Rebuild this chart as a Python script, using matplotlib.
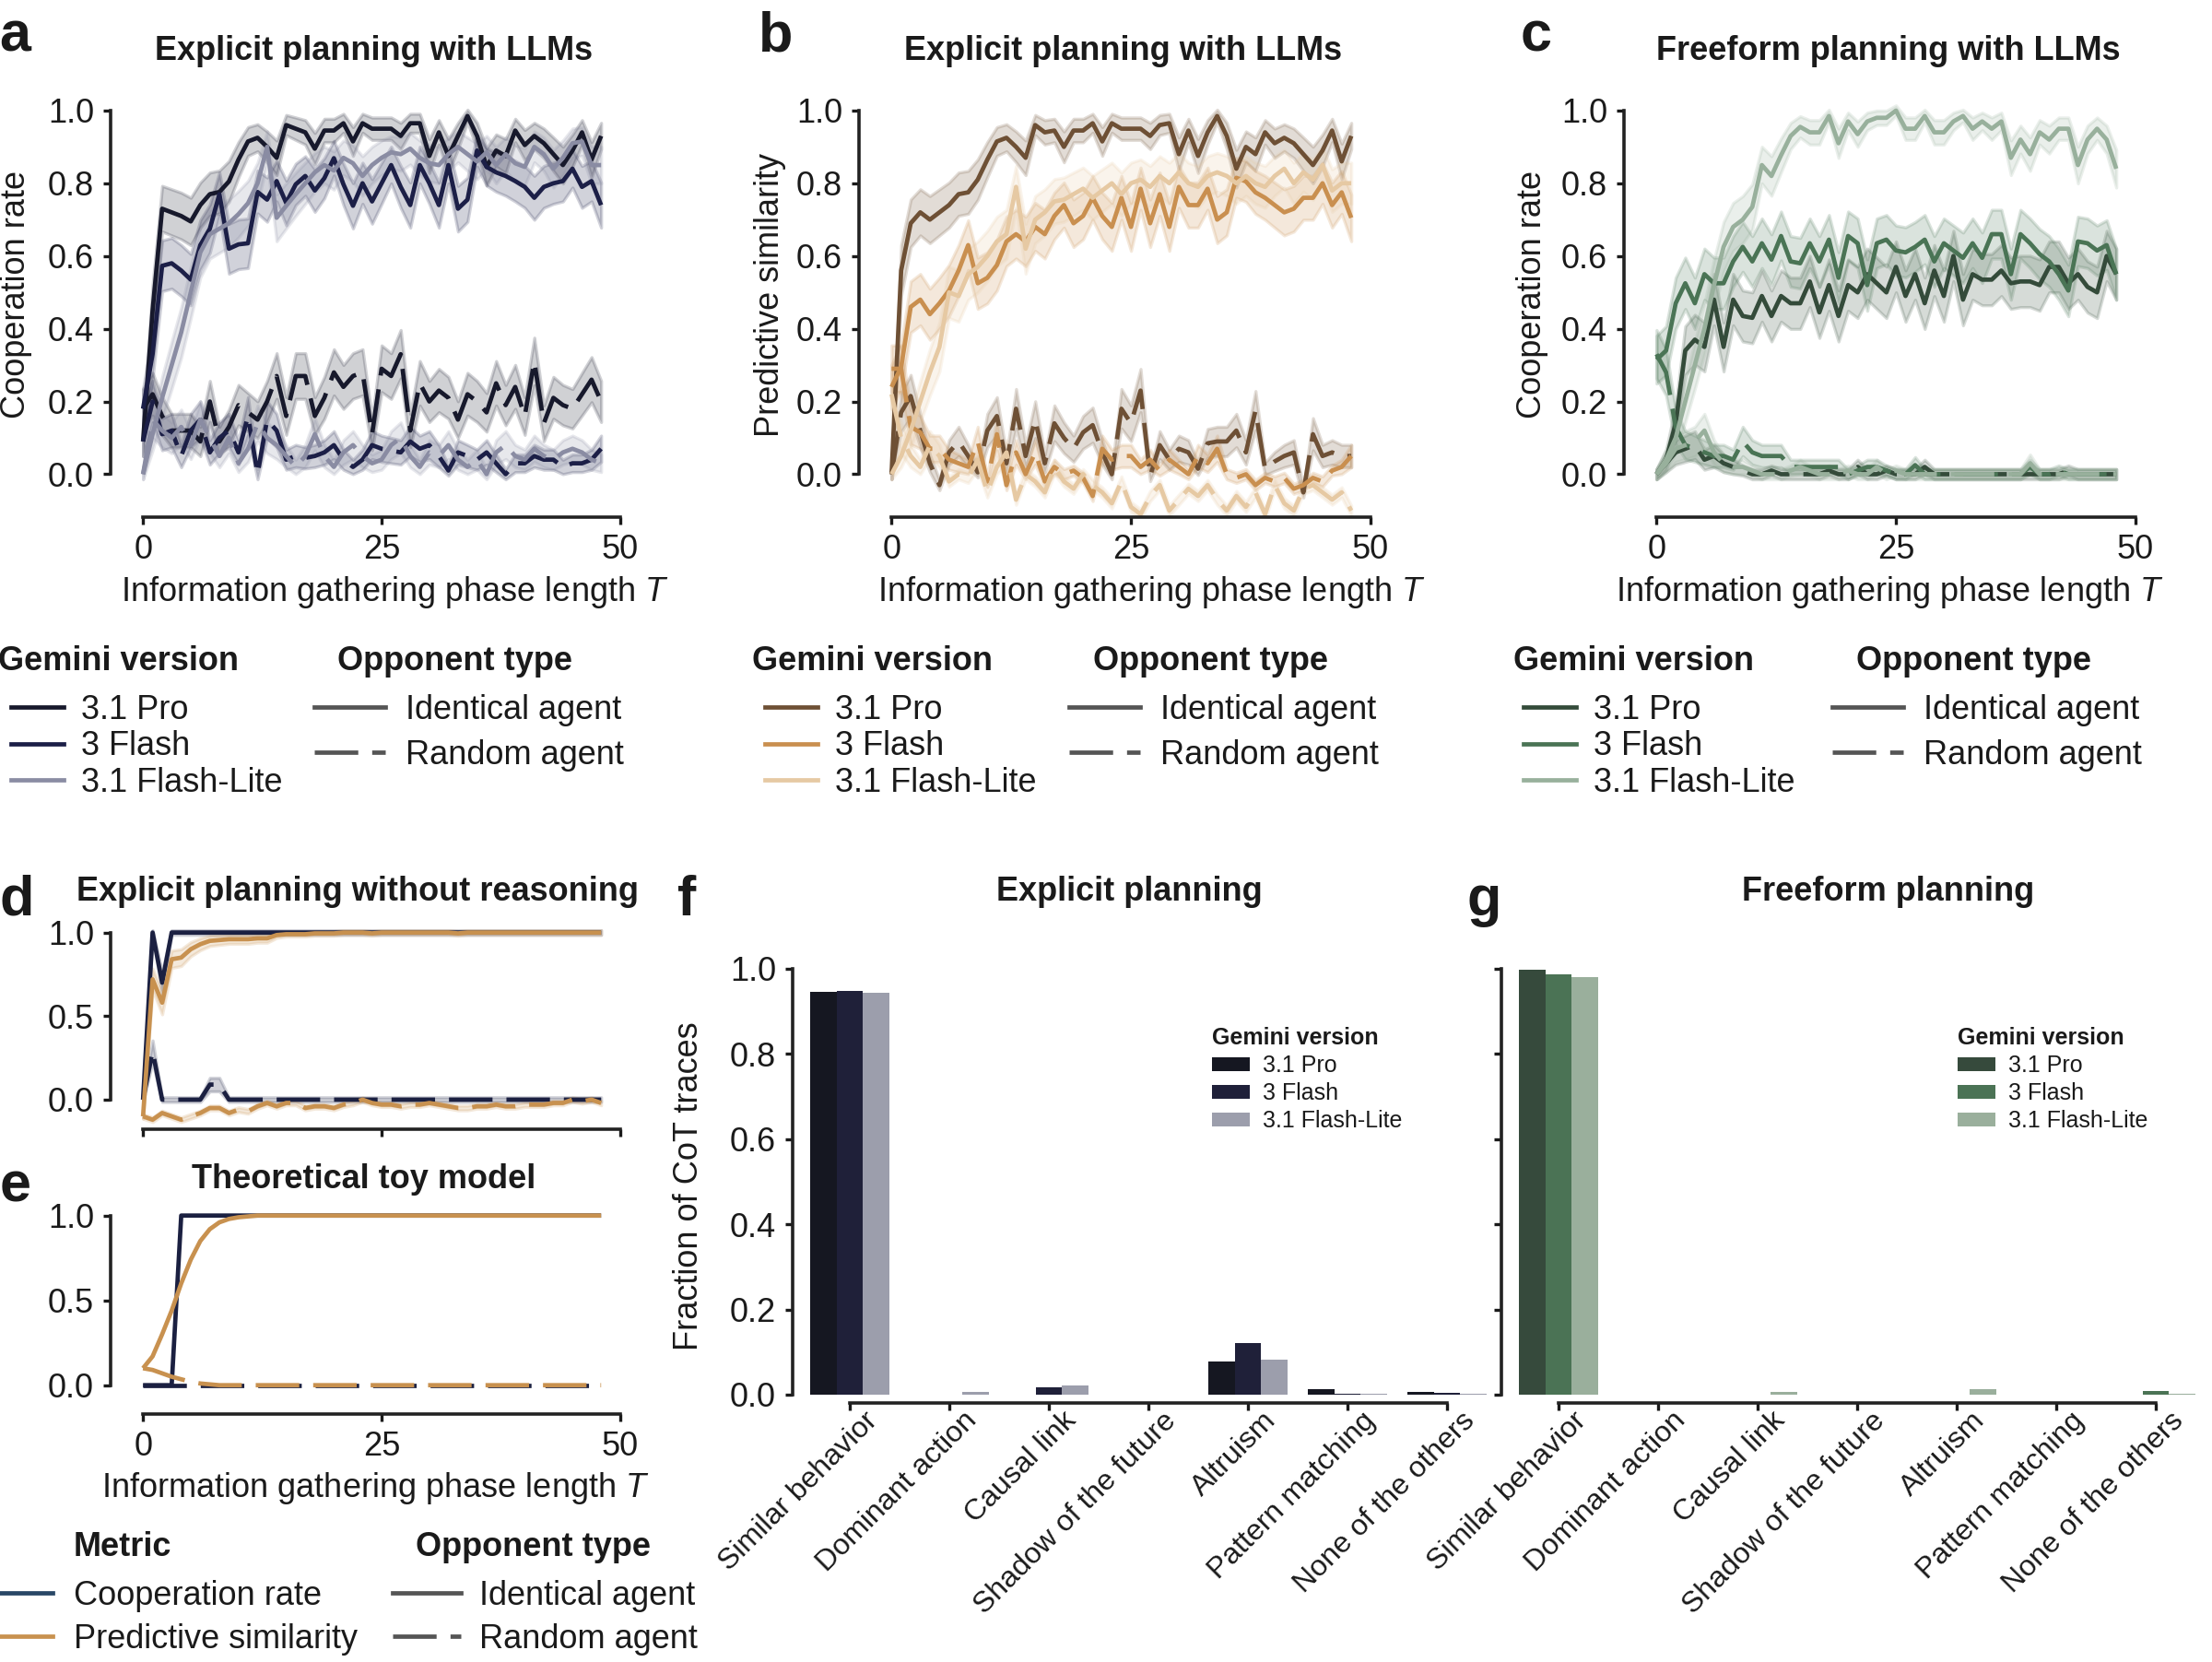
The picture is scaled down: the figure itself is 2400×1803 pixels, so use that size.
import numpy as np
import matplotlib
matplotlib.use("Agg")
import matplotlib.pyplot as plt
from matplotlib.lines import Line2D
from matplotlib.transforms import ScaledTranslation

# ---------------- data ----------------
VERSIONS = ["3.1 Pro", "3 Flash", "3.1 Flash-Lite"]
OPPONENTS = ["Identical agent", "Random agent"]
METRICS = ["Cooperation rate", "Predictive similarity"]
N_GAMES = 50  # games per point, used for the binomial standard-error band

# Panel a: explicit planning, cooperation rate (T = 0..48)
A_PRO_ID = [0.09, 0.45, 0.73, 0.72, 0.71, 0.695, 0.74, 0.77, 0.776, 0.805,
            0.865, 0.915, 0.925, 0.90, 0.87, 0.96, 0.95, 0.94, 0.895, 0.945,
            0.945, 0.965, 0.915, 0.965, 0.95, 0.95, 0.95, 0.93, 0.965, 0.965,
            0.875, 0.94, 0.875, 0.93, 0.985, 0.93, 0.845, 0.89, 0.875, 0.945,
            0.905, 0.93, 0.91, 0.88, 0.85, 0.89, 0.94, 0.865, 0.93]
A_FLASH_ID = [0.18, 0.33, 0.573, 0.58, 0.56, 0.535, 0.63, 0.675, 0.77, 0.62,
              0.632, 0.635, 0.776, 0.755, 0.806, 0.746, 0.797, 0.82, 0.78, 0.814,
              0.869, 0.797, 0.738, 0.80, 0.75, 0.80, 0.85, 0.79, 0.74, 0.85,
              0.80, 0.74, 0.85, 0.73, 0.755, 0.89, 0.845, 0.83, 0.82, 0.806,
              0.79, 0.76, 0.79, 0.80, 0.806, 0.84, 0.79, 0.806, 0.74]
A_LITE_ID = [0.0, 0.11, 0.21, 0.30, 0.39, 0.50, 0.61, 0.66, 0.675, 0.69,
             0.715, 0.745, 0.80, 0.90, 0.705, 0.738, 0.77, 0.80, 0.83, 0.85,
             0.835, 0.87, 0.855, 0.82, 0.85, 0.87, 0.885, 0.88, 0.895, 0.87,
             0.855, 0.85, 0.88, 0.90, 0.88, 0.86, 0.885, 0.85, 0.88, 0.855,
             0.845, 0.90, 0.88, 0.84, 0.87, 0.91, 0.915, 0.85, 0.85]
A_PRO_RND = [0.18, 0.22, 0.16, 0.12, 0.12, 0.12, 0.09, 0.20, 0.09, 0.13,
             0.19, 0.17, 0.15, 0.20, 0.27, 0.16, 0.27, 0.27, 0.16, 0.21,
             0.28, 0.24, 0.27, 0.28, 0.11, 0.29, 0.27, 0.33, 0.12, 0.25,
             0.20, 0.23, 0.21, 0.15, 0.22, 0.20, 0.17, 0.25, 0.19, 0.24,
             0.16, 0.31, 0.14, 0.21, 0.19, 0.18, 0.22, 0.26, 0.20]
A_FLASH_RND = [0.09, 0.20, 0.11, 0.12, 0.05, 0.12, 0.15, 0.06, 0.10, 0.12,
               0.06, 0.16, 0.0, 0.15, 0.12, 0.04, 0.05, 0.045, 0.05, 0.06,
               0.08, 0.04, 0.02, 0.04, 0.08, 0.07, 0.065, 0.06, 0.09, 0.07,
               0.08, 0.05, 0.01, 0.06, 0.05, 0.04, 0.06, 0.03, 0.0, 0.03,
               0.03, 0.05, 0.04, 0.04, 0.02, 0.03, 0.03, 0.04, 0.07]
A_LITE_RND = [0.0, 0.15, 0.12, 0.10, 0.13, 0.08, 0.15, 0.10, 0.05, 0.10,
              0.03, 0.07, 0.14, 0.10, 0.08, 0.05, 0.02, 0.05, 0.11, 0.05,
              0.02, 0.06, 0.08, 0.05, 0.03, 0.04, 0.08, 0.10, 0.05, 0.02,
              0.06, 0.05, 0.08, 0.04, 0.02, 0.04, 0.0, 0.06, 0.08, 0.05,
              0.04, 0.07, 0.05, 0.04, 0.06, 0.07, 0.06, 0.04, 0.03]

# Panel b: explicit planning, predictive similarity
B_PRO_ID = [0.0, 0.56, 0.69, 0.72, 0.70, 0.72, 0.74, 0.77, 0.775, 0.81,
            0.865, 0.915, 0.925, 0.90, 0.87, 0.96, 0.94, 0.945, 0.90, 0.945,
            0.945, 0.965, 0.915, 0.965, 0.95, 0.95, 0.95, 0.93, 0.96, 0.965,
            0.88, 0.945, 0.875, 0.94, 0.985, 0.93, 0.84, 0.90, 0.88, 0.94,
            0.91, 0.925, 0.91, 0.88, 0.85, 0.89, 0.945, 0.86, 0.93]
B_FLASH_ID = [0.24, 0.295, 0.46, 0.48, 0.44, 0.47, 0.505, 0.56, 0.63, 0.525,
              0.54, 0.575, 0.64, 0.66, 0.64, 0.68, 0.66, 0.71, 0.74, 0.69,
              0.71, 0.76, 0.71, 0.68, 0.76, 0.68, 0.785, 0.69, 0.77, 0.68,
              0.79, 0.74, 0.74, 0.785, 0.70, 0.72, 0.815, 0.805, 0.775, 0.76,
              0.74, 0.72, 0.73, 0.76, 0.76, 0.80, 0.74, 0.775, 0.705]
B_LITE_ID = [0.0, 0.05, 0.12, 0.20, 0.28, 0.35, 0.50, 0.49, 0.55, 0.57,
             0.60, 0.64, 0.66, 0.79, 0.62, 0.70, 0.72, 0.75, 0.755, 0.77,
             0.785, 0.76, 0.78, 0.80, 0.77, 0.80, 0.81, 0.79, 0.82, 0.80,
             0.83, 0.80, 0.79, 0.82, 0.83, 0.82, 0.80, 0.82, 0.80, 0.79,
             0.82, 0.84, 0.80, 0.83, 0.81, 0.85, 0.78, 0.80, 0.80]
B_PRO_RND = [0.0, 0.17, 0.215, 0.12, 0.03, -0.03, 0.06, 0.09, 0.05, 0.005,
             0.12, 0.16, 0.03, 0.18, 0.05, 0.15, 0.03, 0.14, 0.10, 0.07,
             0.115, 0.135, 0.06, 0.0, 0.18, 0.14, 0.23, -0.005, 0.08, 0.04,
             0.07, 0.06, 0.015, 0.085, 0.09, 0.09, 0.12, 0.06, 0.175, 0.015,
             0.035, 0.05, 0.06, -0.05, 0.11, 0.05, 0.06, 0.05, 0.05]
B_FLASH_RND = [0.29, 0.29, 0.13, 0.115, 0.07, 0.07, 0.04, 0.03, 0.02, 0.09,
               -0.02, 0.11, -0.03, 0.06, 0.0, 0.06, -0.02, 0.02, 0.0, 0.01,
               -0.01, -0.06, 0.07, 0.04, 0.05, 0.05, 0.02, 0.04, 0.01, 0.04,
               0.02, 0.0, 0.05, 0.03, 0.07, 0.0, -0.01, 0.0, -0.03, -0.01,
               -0.02, -0.01, -0.04, -0.03, -0.01, -0.02, 0.01, 0.02, 0.05]
B_LITE_RND = [0.22, 0.10, 0.05, 0.02, 0.08, 0.05, -0.02, 0.0, -0.01, 0.04,
              -0.05, 0.02, 0.06, -0.07, 0.0, -0.02, -0.05, 0.02, -0.02, -0.04,
              0.0, -0.03, -0.05, -0.08, -0.02, -0.09, -0.11, -0.06, -0.03, -0.10,
              -0.07, -0.04, -0.06, -0.03, -0.07, -0.10, -0.06, -0.09, -0.05, -0.11,
              -0.03, -0.08, -0.10, -0.04, -0.03, -0.05, -0.07, -0.05, -0.10]

# Panel c: freeform planning, cooperation rate
C_PRO_ID = [0.0, 0.04, 0.14, 0.34, 0.37, 0.35, 0.48, 0.35, 0.48, 0.435,
            0.43, 0.49, 0.435, 0.49, 0.47, 0.47, 0.53, 0.445, 0.52, 0.435,
            0.52, 0.50, 0.55, 0.525, 0.50, 0.57, 0.49, 0.55, 0.47, 0.56,
            0.49, 0.60, 0.48, 0.55, 0.535, 0.535, 0.56, 0.525, 0.53, 0.53,
            0.52, 0.57, 0.57, 0.525, 0.55, 0.515, 0.50, 0.60, 0.55]
C_FLASH_ID = [0.315, 0.34, 0.47, 0.525, 0.47, 0.55, 0.525, 0.525, 0.585, 0.625,
              0.585, 0.635, 0.59, 0.655, 0.585, 0.58, 0.635, 0.585, 0.645, 0.54,
              0.655, 0.635, 0.52, 0.635, 0.645, 0.615, 0.61, 0.625, 0.645, 0.585,
              0.635, 0.615, 0.595, 0.635, 0.595, 0.66, 0.66, 0.55, 0.66, 0.635,
              0.605, 0.585, 0.55, 0.505, 0.64, 0.635, 0.615, 0.63, 0.55]
C_LITE_ID = [0.0, 0.04, 0.10, 0.20, 0.30, 0.40, 0.52, 0.625, 0.68, 0.70,
             0.735, 0.85, 0.82, 0.877, 0.93, 0.955, 0.94, 0.94, 0.985, 0.91,
             0.97, 0.935, 0.97, 0.98, 0.98, 1.0, 0.95, 0.95, 0.985, 0.94,
             0.94, 0.97, 0.985, 0.95, 0.97, 0.95, 0.97, 0.87, 0.92, 0.88,
             0.94, 0.92, 0.95, 0.95, 0.85, 0.92, 0.95, 0.92, 0.84]
C_PRO_RND = [0.0, 0.03, 0.06, 0.07, 0.08, 0.04, 0.05, 0.03, 0.02, 0.01,
             0.0, 0.0, 0.01, 0.0, 0.0, 0.0, 0.0, 0.0, 0.01, 0.0,
             0.0, 0.02, 0.0, 0.0, 0.01, 0.0, 0.0, 0.0, 0.02, 0.0,
             0.0, 0.0, 0.0, 0.0, 0.0, 0.0, 0.0, 0.0, 0.0, 0.0,
             0.0, 0.0, 0.0, 0.01, 0.0, 0.0, 0.0, 0.0, 0.0]
C_FLASH_RND = [0.33, 0.28, 0.13, 0.08, 0.07, 0.06, 0.05, 0.05, 0.04, 0.09,
               0.06, 0.05, 0.05, 0.05, 0.02, 0.02, 0.02, 0.02, 0.02, 0.02,
               0.0, 0.01, 0.02, 0.02, 0.01, 0.0, 0.0, 0.025, 0.0, 0.0,
               0.0, 0.0, 0.0, 0.0, 0.0, 0.0, 0.0, 0.0, 0.0, 0.02,
               0.0, 0.0, 0.01, 0.0, 0.0, 0.0, 0.0, 0.0, 0.0]
C_LITE_RND = [0.0, 0.03, 0.07, 0.08, 0.09, 0.12, 0.06, 0.03, 0.02, 0.02,
              0.01, 0.0, 0.0, 0.0, 0.01, 0.02, 0.01, 0.0, 0.0, 0.0,
              0.01, 0.0, 0.0, 0.02, 0.0, 0.01, 0.0, 0.0, 0.0, 0.0,
              0.0, 0.0, 0.0, 0.0, 0.0, 0.0, 0.0, 0.0, 0.0, 0.03,
              0.0, 0.0, 0.0, 0.0, 0.0, 0.0, 0.0, 0.0, 0.0]

# Panel d: explicit planning without reasoning
D_COOP_ID = [0.0, 1.0, 0.70, 1.0, 1.0, 1.0, 1.0, 1.0, 1.0, 1.0,
             1.0, 1.0, 1.0, 1.0, 1.0, 1.0, 1.0, 1.0, 1.0, 1.0,
             1.0, 1.0, 1.0, 1.0, 1.0, 1.0, 1.0, 1.0, 1.0, 1.0,
             1.0, 1.0, 1.0, 1.0, 1.0, 1.0, 1.0, 1.0, 1.0, 1.0,
             1.0, 1.0, 1.0, 1.0, 1.0, 1.0, 1.0, 1.0, 1.0]
D_PRED_ID = [-0.10, 0.72, 0.58, 0.84, 0.85, 0.90, 0.93, 0.95, 0.955, 0.96,
             0.96, 0.96, 0.965, 0.965, 0.985, 0.99, 0.99, 0.99, 0.995, 0.995,
             0.995, 1.0, 1.0, 1.0, 0.995, 1.0, 1.0, 1.0, 1.0, 1.0,
             1.0, 1.0, 1.0, 0.995, 1.0, 1.0, 1.0, 1.0, 1.0, 1.0,
             1.0, 1.0, 1.0, 1.0, 1.0, 1.0, 1.0, 1.0, 1.0]
D_COOP_RND = [0.0, 0.29, 0.0, 0.0, 0.0, 0.0, 0.0, 0.09, 0.09, 0.0,
              0.0, 0.0, 0.0, 0.0, 0.0, 0.0, 0.0, 0.0, 0.0, 0.0,
              0.0, 0.0, 0.0, 0.0, 0.0, 0.0, 0.0, 0.0, 0.0, 0.0,
              0.0, 0.0, 0.0, 0.0, 0.0, 0.0, 0.0, 0.0, 0.0, 0.0,
              0.0, 0.0, 0.0, 0.0, 0.0, 0.0, 0.0, 0.0, 0.0]
D_PRED_RND = [-0.10, -0.12, -0.08, -0.10, -0.12, -0.10, -0.08, -0.05, -0.05, -0.08,
              -0.06, -0.07, -0.04, -0.02, -0.04, -0.02, -0.02, -0.05, -0.04, -0.04,
              -0.05, -0.03, -0.02, 0.0, -0.02, -0.03, -0.03, -0.04, -0.03, -0.03,
              -0.02, -0.03, -0.04, -0.05, -0.05, -0.04, -0.04, -0.03, -0.04, -0.04,
              -0.03, -0.03, -0.03, -0.02, -0.02, 0.0, -0.01, 0.0, -0.02]

# Panel e: theoretical toy model
E_COOP_ID = [0.0, 0.0, 0.0, 0.0, 1.0, 1.0, 1.0, 1.0, 1.0, 1.0,
             1.0, 1.0, 1.0, 1.0, 1.0, 1.0, 1.0, 1.0, 1.0, 1.0,
             1.0, 1.0, 1.0, 1.0, 1.0, 1.0, 1.0, 1.0, 1.0, 1.0,
             1.0, 1.0, 1.0, 1.0, 1.0, 1.0, 1.0, 1.0, 1.0, 1.0,
             1.0, 1.0, 1.0, 1.0, 1.0, 1.0, 1.0, 1.0, 1.0]
E_PRED_ID = [0.10, 0.17, 0.30, 0.44, 0.60, 0.74, 0.85, 0.92, 0.96, 0.98,
             0.99, 0.995, 1.0, 1.0, 1.0, 1.0, 1.0, 1.0, 1.0, 1.0,
             1.0, 1.0, 1.0, 1.0, 1.0, 1.0, 1.0, 1.0, 1.0, 1.0,
             1.0, 1.0, 1.0, 1.0, 1.0, 1.0, 1.0, 1.0, 1.0, 1.0,
             1.0, 1.0, 1.0, 1.0, 1.0, 1.0, 1.0, 1.0, 1.0]
E_COOP_RND = [0.0, 0.0, 0.0, 0.0, 0.0, 0.0, 0.0, 0.0, 0.0, 0.0,
              0.0, 0.0, 0.0, 0.0, 0.0, 0.0, 0.0, 0.0, 0.0, 0.0,
              0.0, 0.0, 0.0, 0.0, 0.0, 0.0, 0.0, 0.0, 0.0, 0.0,
              0.0, 0.0, 0.0, 0.0, 0.0, 0.0, 0.0, 0.0, 0.0, 0.0,
              0.0, 0.0, 0.0, 0.0, 0.0, 0.0, 0.0, 0.0, 0.0]
E_PRED_RND = [0.10, 0.09, 0.07, 0.05, 0.035, 0.02, 0.01, 0.005, 0.0, 0.0,
              0.0, 0.0, 0.0, 0.0, 0.0, 0.0, 0.0, 0.0, 0.0, 0.0,
              0.0, 0.0, 0.0, 0.0, 0.0, 0.0, 0.0, 0.0, 0.0, 0.0,
              0.0, 0.0, 0.0, 0.0, 0.0, 0.0, 0.0, 0.0, 0.0, 0.0,
              0.0, 0.0, 0.0, 0.0, 0.0, 0.0, 0.0, 0.0, 0.0]

# Panels f, g: CoT trace categories
CATEGORIES = ["Similar behavior", "Dominant action", "Causal link",
              "Shadow of the future", "Altruism", "Pattern matching",
              "None of the others"]
F_PRO = [0.945, 0.001, 0.001, 0.001, 0.078, 0.012, 0.006]
F_FLASH = [0.947, 0.0, 0.017, 0.001, 0.122, 0.002, 0.004]
F_LITE = [0.943, 0.007, 0.021, 0.001, 0.083, 0.002, 0.002]
G_PRO = [0.998, 0.0, 0.0, 0.0, 0.0, 0.0, 0.0]
G_FLASH = [0.988, 0.0, 0.0, 0.0, 0.001, 0.0, 0.009]
G_LITE = [0.980, 0.001, 0.006, 0.001, 0.012, 0.0, 0.002]

# ---------------- style ----------------
TXT = "#1a1a1a"
NAVY = ["#17192c", "#1c1f47", "#8a8ca3"]
BROWN = ["#6e5035", "#c98f4f", "#e6c9a3"]
GREEN = ["#344b3a", "#4a7455", "#98b09c"]
BAR_NAVY = ["#151721", "#1f2039", "#9c9eac"]
BAR_GREEN = ["#364a3c", "#4b7355", "#9aaf9c"]
COOP_C = "#1b2041"
COOP_LEG = "#294766"
PRED_C = "#c8914f"
OPP_C = "#555555"
DASH = (0, (10, 3.2))
LW = 1.7

plt.rcParams["font.family"] = ["Liberation Sans", "DejaVu Sans"]
plt.rcParams["mathtext.fontset"] = "custom"
plt.rcParams["mathtext.it"] = "Liberation Sans:italic"
plt.rcParams["mathtext.rm"] = "Liberation Sans"
plt.rcParams["text.color"] = TXT
plt.rcParams["axes.labelcolor"] = TXT
plt.rcParams["xtick.color"] = TXT
plt.rcParams["ytick.color"] = TXT
plt.rcParams["axes.edgecolor"] = "#222222"

W, H, DPI = 2400, 1803, 200
fig = plt.figure(figsize=(W / DPI, H / DPI), dpi=DPI)
fig.patch.set_facecolor("white")


def px_axes(l, t, r, b):
    return fig.add_axes([l / W, 1 - b / H, (r - l) / W, (b - t) / H])


def fx(px):
    return px / W


def fy(py):
    return 1 - py / H


def style_axes(ax, fs=13):
    for s in ["top", "right"]:
        ax.spines[s].set_visible(False)
    for s in ["left", "bottom"]:
        ax.spines[s].set_linewidth(1.3)
    ax.tick_params(direction="out", length=3.0, width=1.2, labelsize=fs, pad=3.5)


def series(ax, y, color, dashed, band=True):
    y = np.asarray(y, dtype=float)
    x = np.arange(len(y))
    if band:
        p = np.clip(y, 0.01, 0.99)
        se = np.sqrt(p * (1 - p) / N_GAMES)
        ax.fill_between(x, y - se, y + se, color=color, alpha=0.2, lw=1.2)
    ax.plot(x, y, color=color, lw=LW, ls=DASH if dashed else "-",
            dash_capstyle="butt", solid_capstyle="butt")


def label_coords_px(ax, which, px, py, l, t, r, b):
    xa = (px - l) / (r - l)
    ya = (b - py) / (b - t)
    (ax.xaxis if which == "x" else ax.yaxis).set_label_coords(xa, ya)


# ---------------- panels a, b, c ----------------
top_specs = [
    ("a", 120, 676, "Explicit planning with LLMs", "Cooperation rate", NAVY,
     [(A_PRO_ID, A_PRO_RND), (A_FLASH_ID, A_FLASH_RND), (A_LITE_ID, A_LITE_RND)],
     428, 17),
    ("b", 932, 1490, "Explicit planning with LLMs", "Predictive similarity", BROWN,
     [(B_PRO_ID, B_PRO_RND), (B_FLASH_ID, B_FLASH_RND), (B_LITE_ID, B_LITE_RND)],
     1249, 836),
    ("c", 1762, 2320, "Freeform planning with LLMs", "Cooperation rate", GREEN,
     [(C_PRO_ID, C_PRO_RND), (C_FLASH_ID, C_FLASH_RND), (C_LITE_ID, C_LITE_RND)],
     2050, 1662),
]
TT, TB = 112, 561
for letter, l, r, title, ylab, cols, data, xl_c, yl_c in top_specs:
    ax = px_axes(l, TT, r, TB)
    style_axes(ax)
    for (yid, yrnd), c in zip(data, cols):
        series(ax, yid, c, False)
        series(ax, yrnd, c, True)
    ax.set_xlim(-3.4, 50.3)
    ax.set_ylim(-0.118, 1.02)
    ax.set_xticks([0, 25, 50])
    ax.set_yticks([0, 0.2, 0.4, 0.6, 0.8, 1.0])
    ax.set_yticklabels(["0.0", "0.2", "0.4", "0.6", "0.8", "1.0"])
    ax.spines["left"].set_bounds(0, 1)
    ax.spines["bottom"].set_bounds(0, 50)
    ax.set_xlabel("Information gathering phase length $T$", fontsize=13, va="baseline")
    label_coords_px(ax, "x", xl_c, 652, l, TT, r, TB)
    ax.set_ylabel(ylab, fontsize=13, va="center", ha="center")
    label_coords_px(ax, "y", yl_c, 320, l, TT, r, TB)
    fig.text(fx((l + r) / 2 + 8), fy(65), title, fontsize=13, fontweight="bold",
             ha="center", va="baseline")

fig.text(fx(-1), fy(55), "a", fontsize=22, fontweight="bold", ha="left", va="baseline")
fig.text(fx(823), fy(55), "b", fontsize=22, fontweight="bold", ha="left", va="baseline")
fig.text(fx(1650), fy(55), "c", fontsize=22, fontweight="bold", ha="left", va="baseline")

# legends under a, b, c
leg_specs = [(NAVY, -2, 12, 366, 341), (BROWN, 816, 830, 1186, 1160),
             (GREEN, 1642, 1653, 2014, 1988)]
for cols, gt_x, gh_x, ot_x, oh_x in leg_specs:
    fig.text(fx(gt_x), fy(727), "Gemini version", fontsize=13, fontweight="bold",
             ha="left", va="baseline")
    fig.text(fx(ot_x), fy(727), "Opponent type", fontsize=13, fontweight="bold",
             ha="left", va="baseline")
    hv = [Line2D([], [], color=c, lw=LW) for c in cols]
    fig.legend(hv, VERSIONS, loc="upper left", bbox_to_anchor=(fx(gh_x), fy(753)),
               frameon=False, borderpad=0, borderaxespad=0, handlelength=1.58,
               handletextpad=0.53, labelspacing=0.12, fontsize=13)
    ho = [Line2D([], [], color=OPP_C, lw=LW),
          Line2D([], [], color=OPP_C, lw=LW, ls=DASH)]
    fig.legend(ho, OPPONENTS, loc="upper left", bbox_to_anchor=(fx(oh_x), fy(753)),
               frameon=False, borderpad=0, borderaxespad=0, handlelength=2.13,
               handletextpad=0.6, labelspacing=0.38, fontsize=13)

# ---------------- panels d, e ----------------
DL, DR = 120, 676
DT, DB = 1008, 1225
ET, EB = 1315, 1534
axd = px_axes(DL, DT, DR, DB)
axe = px_axes(DL, ET, DR, EB)
for ax, yl, band, data in [
        (axd, -0.177, True, (D_COOP_ID, D_COOP_RND, D_PRED_ID, D_PRED_RND)),
        (axe, -0.17, False, (E_COOP_ID, E_COOP_RND, E_PRED_ID, E_PRED_RND))]:
    style_axes(ax)
    cid, crnd, pid, prnd = data
    series(ax, cid, COOP_C, False, band)
    series(ax, crnd, COOP_C, True, band)
    series(ax, pid, PRED_C, False, band)
    series(ax, prnd, PRED_C, True, band)
    ax.set_xlim(-3.4, 50.3)
    ax.set_ylim(yl, 1.02)
    ax.set_xticks([0, 25, 50])
    ax.set_yticks([0, 0.5, 1.0])
    ax.set_yticklabels(["0.0", "0.5", "1.0"])
    ax.spines["left"].set_bounds(0, 1)
    ax.spines["bottom"].set_bounds(0, 50)
axd.tick_params(labelbottom=False)
axe.set_xlabel("Information gathering phase length $T$", fontsize=13, va="baseline")
label_coords_px(axe, "x", 407, 1624, DL, ET, DR, EB)

fig.text(fx(388), fy(977), "Explicit planning without reasoning", fontsize=13,
         fontweight="bold", ha="center", va="baseline")
fig.text(fx(395), fy(1289), "Theoretical toy model", fontsize=13,
         fontweight="bold", ha="center", va="baseline")
fig.text(fx(0), fy(993), "d", fontsize=22, fontweight="bold", ha="left", va="baseline")
fig.text(fx(0), fy(1304), "e", fontsize=22, fontweight="bold", ha="left", va="baseline")

fig.text(fx(80), fy(1688), "Metric", fontsize=13, fontweight="bold", ha="left", va="baseline")
fig.text(fx(451), fy(1688), "Opponent type", fontsize=13, fontweight="bold",
         ha="left", va="baseline")
hm = [Line2D([], [], color=COOP_LEG, lw=LW), Line2D([], [], color=PRED_C, lw=LW)]
fig.legend(hm, METRICS, loc="upper left", bbox_to_anchor=(fx(-22), fy(1714)),
           frameon=False, borderpad=0, borderaxespad=0, handlelength=2.19,
           handletextpad=0.64, labelspacing=0.33, fontsize=13)
ho = [Line2D([], [], color=OPP_C, lw=LW), Line2D([], [], color=OPP_C, lw=LW, ls=DASH)]
fig.legend(ho, OPPONENTS, loc="upper left", bbox_to_anchor=(fx(426), fy(1714)),
           frameon=False, borderpad=0, borderaxespad=0, handlelength=2.05,
           handletextpad=0.56, labelspacing=0.33, fontsize=13)

# ---------------- panels f, g ----------------
FT, FB = 1051, 1513
bar_specs = [("f", 868, 1624, "Explicit planning", BAR_NAVY, (F_PRO, F_FLASH, F_LITE),
              1315, True, 1225, 735),
             ("g", 1637, 2393, "Freeform planning", BAR_GREEN, (G_PRO, G_FLASH, G_LITE),
              2124, False, 2049, 1591)]
xcat = np.arange(len(CATEGORIES))
bw = 0.8 / 3
shift = ScaledTranslation(5.4 / 72, 5.0 / 72, fig.dpi_scale_trans)
for letter, l, r, title, cols, vals, leg_x, ylabels, title_x, let_x in bar_specs:
    ax = px_axes(l, FT, r, FB)
    style_axes(ax)
    ax.spines["left"].set_position(("outward", 2.9))
    ax.spines["bottom"].set_position(("outward", 3.2))
    for k, (v, c) in enumerate(zip(vals, cols)):
        ax.bar(xcat + (k - 1) * bw, v, width=bw, color=c, lw=0, label=VERSIONS[k])
    ax.set_xlim(-0.5, 6.5)
    ax.set_ylim(0, 1.0)
    ax.set_yticks([0, 0.2, 0.4, 0.6, 0.8, 1.0])
    if ylabels:
        ax.set_yticklabels(["0.0", "0.2", "0.4", "0.6", "0.8", "1.0"])
        ax.set_ylabel("Fraction of CoT traces", fontsize=13, va="center", ha="center")
        label_coords_px(ax, "y", 747, 1287, l, FT, r, FB)
    else:
        ax.tick_params(labelleft=False)
    ax.spines["left"].set_bounds(0, 1)
    ax.spines["bottom"].set_bounds(0, 6)
    ax.set_xticks(xcat)
    ax.set_xticklabels(CATEGORIES, rotation=45, ha="right", va="top",
                       rotation_mode="anchor", fontsize=11.5)
    for lab in ax.get_xticklabels():
        lab.set_transform(lab.get_transform() + shift)
    ax.legend(loc="upper left", bbox_to_anchor=(fx(leg_x), fy(1114)),
              bbox_transform=fig.transFigure, frameon=False, borderpad=0,
              borderaxespad=0, fontsize=9, title="Gemini version",
              title_fontproperties={"weight": "bold", "size": 9},
              alignment="left", handlelength=1.64, handleheight=0.56,
              handletextpad=0.56, labelspacing=0.24)
    fig.text(fx(title_x), fy(977), title, fontsize=13, fontweight="bold",
             ha="center", va="baseline")
    fig.text(fx(let_x), fy(993), letter, fontsize=22, fontweight="bold",
             ha="left", va="baseline")

fig.savefig("out.png", dpi=DPI)
